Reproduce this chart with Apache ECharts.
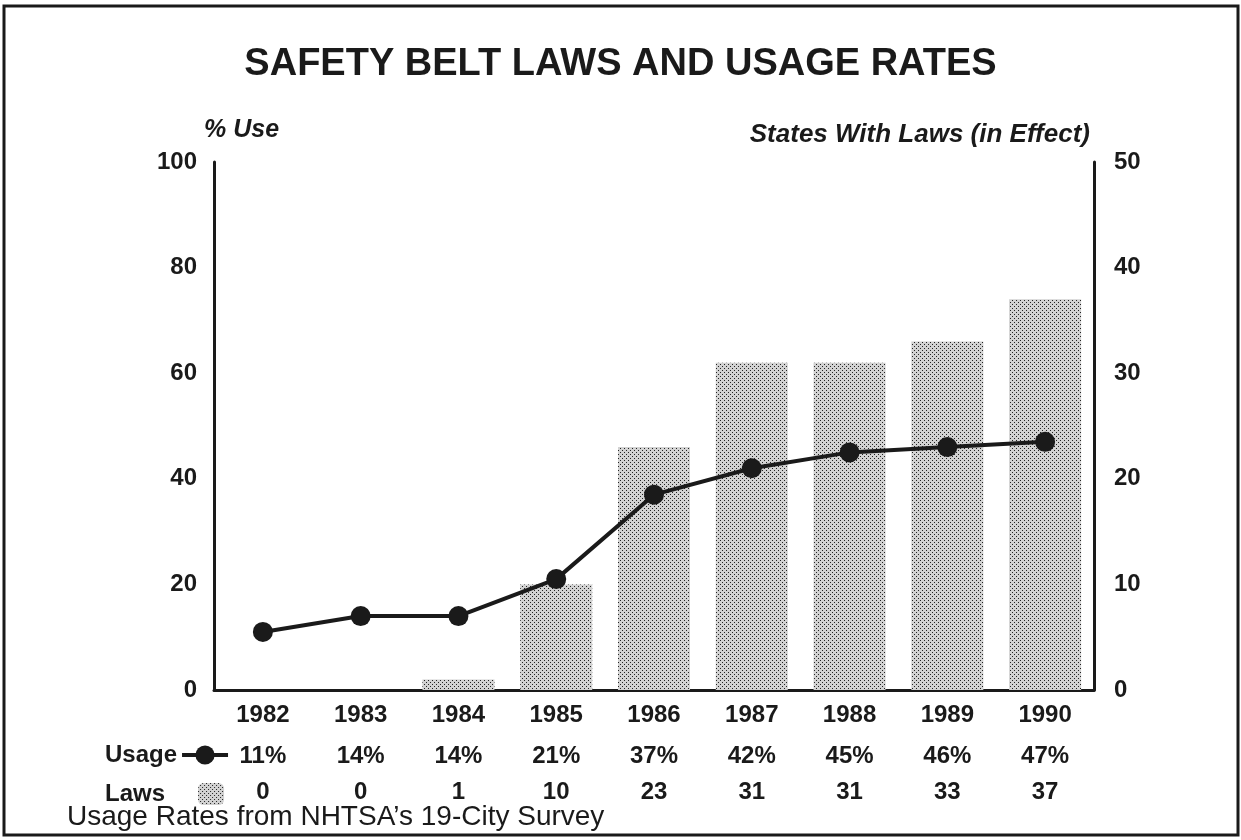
<!DOCTYPE html>
<html>
<head>
<meta charset="utf-8">
<script src="https://cdn.jsdelivr.net/npm/echarts@6/dist/echarts.min.js"></script>
<style>
  html, body { margin: 0; padding: 0; background: #fff; }
  #chart { width: 1241px; height: 840px; }
</style>
</head>
<body>
<div id="chart"></div>
<script>
  // data
  var years = ['1982', '1983', '1984', '1985', '1986', '1987', '1988', '1989', '1990'];
  var usage = [11, 14, 14, 21, 37, 42, 45, 46, 47];   // % use, left axis
  var laws = [0, 0, 1, 10, 23, 31, 31, 33, 37];       // states with laws, right axis
  var leftTicks = [0, 20, 40, 60, 80, 100];
  var rightTicks = [0, 10, 20, 30, 40, 50];

  // stipple pattern for the bars
  var pat = document.createElement('canvas');
  pat.width = 4; pat.height = 4;
  var ctx = pat.getContext('2d');
  ctx.fillStyle = '#d2d2d2';
  ctx.fillRect(0, 0, 4, 4);
  ctx.fillStyle = '#222';
  ctx.fillRect(0, 0, 1, 1);
  ctx.fillRect(2, 2, 1, 1);
  var stipple = { image: pat, repeat: 'repeat' };

  var font = 'Liberation Sans, Arial, sans-serif';
  var ink = '#1a1a1a';

  var chart = echarts.init(document.getElementById('chart'));
  var option = {
    backgroundColor: '#fff',
    animation: false,
    textStyle: { fontFamily: font, color: ink },
    title: {
      text: 'SAFETY BELT LAWS AND USAGE RATES',
      left: 'center',
      top: 41,
      textStyle: { fontFamily: font, fontSize: 38, fontWeight: 'bold', color: ink }
    },
    legend: [
      {
        data: ['Usage'],
        left: 100, top: 738,
        align: 'right',
        itemWidth: 46, itemHeight: 24,
        selectedMode: false,
        lineStyle: { width: 4, color: ink },
        textStyle: { fontFamily: font, fontSize: 24, fontWeight: 'bold', color: ink }
      },
      {
        data: ['Laws'],
        left: 100, top: 777,
        align: 'right',
        itemWidth: 26, itemHeight: 22,
        selectedMode: false,
        textStyle: { fontFamily: font, fontSize: 24, fontWeight: 'bold', color: ink, padding: [0, 28, 0, 0] }
      }
    ],
    grid: { left: 214, right: 147, top: 162, bottom: 150 },
    xAxis: {
      type: 'category',
      data: years,
      axisLine: { lineStyle: { color: ink, width: 3 } },
      axisTick: { show: false },
      axisLabel: {
        margin: 10,
        interval: 0,
        formatter: function (v, i) {
          return '{y|' + v + '}\n{u|' + usage[i] + '%}\n{l|' + laws[i] + '}';
        },
        rich: {
          y: { fontFamily: font, fontSize: 24, fontWeight: 'bold', color: ink, lineHeight: 30 },
          u: { fontFamily: font, fontSize: 24, fontWeight: 'bold', color: ink, lineHeight: 52 },
          l: { fontFamily: font, fontSize: 24, fontWeight: 'bold', color: ink, lineHeight: 20 }
        }
      }
    },
    yAxis: [
      {
        type: 'value',
        min: leftTicks[0], max: leftTicks[leftTicks.length - 1], interval: 20,
        name: '% Use',
        nameLocation: 'end',
        nameGap: 19,
        nameTextStyle: { fontFamily: font, fontSize: 25, fontWeight: 'bold', fontStyle: 'italic', color: ink, align: 'left', padding: [0, 0, 0, -10] },
        axisLine: { show: true, lineStyle: { color: ink, width: 3 } },
        axisTick: { show: false },
        splitLine: { show: false },
        axisLabel: { margin: 17, fontFamily: font, fontSize: 24, fontWeight: 'bold', color: ink }
      },
      {
        type: 'value',
        min: rightTicks[0], max: rightTicks[rightTicks.length - 1], interval: 10,
        name: 'States With Laws (in Effect)',
        nameLocation: 'end',
        nameGap: 14,
        nameTextStyle: { fontFamily: font, fontSize: 26, fontWeight: 'bold', fontStyle: 'italic', color: ink, align: 'right', padding: [0, 4, 0, 0] },
        axisLine: { show: true, lineStyle: { color: ink, width: 3 } },
        axisTick: { show: false },
        splitLine: { show: false },
        axisLabel: { margin: 20, fontFamily: font, fontSize: 24, fontWeight: 'bold', color: ink }
      }
    ],
    series: [
      {
        name: 'Laws',
        type: 'bar',
        yAxisIndex: 1,
        barWidth: 72,
        data: laws,
        itemStyle: { color: stipple },
        z: 1
      },
      {
        name: 'Usage',
        type: 'line',
        yAxisIndex: 0,
        data: usage,
        symbol: 'circle',
        symbolSize: 20,
        lineStyle: { color: ink, width: 4 },
        itemStyle: { color: ink },
        z: 3
      }
    ],
    graphic: [
      {
        type: 'rect',
        shape: { x: 4, y: 6, width: 1234, height: 829 },
        style: { fill: 'none', stroke: ink, lineWidth: 3 },
        silent: true
      },
      {
        type: 'text',
        left: 67, top: 803,
        style: { text: 'Usage Rates from NHTSA\u2019s 19-City Survey', fontFamily: font, fontSize: 28, fill: ink }
      }
    ]
  };
  chart.setOption(option);
</script>
</body>
</html>
